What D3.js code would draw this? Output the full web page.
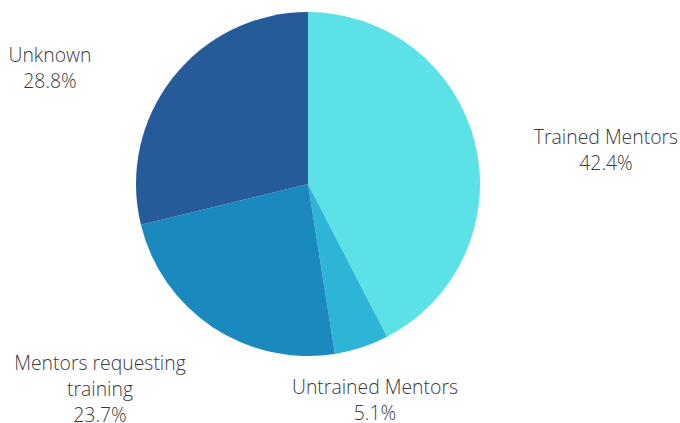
<!DOCTYPE html>
<html>
<head>
<meta charset="utf-8">
<script src="https://cdn.jsdelivr.net/npm/d3@7"></script>
<style>
  body { margin: 0; background: #fff; }
  svg text { font-family: "Open Sans", sans-serif; font-weight: 300; font-size: 19.4px; fill: #3a3a3a; }
</style>
</head>
<body>
<div id="chart"></div>
<script>
// data
const categories = ["Trained Mentors", "Untrained Mentors", "Mentors requesting training", "Unknown"];
const values = [42.4, 5.1, 23.7, 28.8];
const colors = ["#5ce1e6", "#2db4d6", "#1a89bd", "#265b99"];
// label lines and anchor positions (px), one entry per slice
const labelLines = [["Trained Mentors"], ["Untrained Mentors"], ["Mentors requesting", "training"], ["Unknown"]];
const labelPos = [[606, 144], [375, 394], [100, 370], [50, 62]];

const W = 680, H = 423;
const cx = 308, cy = 184, r = 172;

const svg = d3.select("#chart").append("svg")
  .attr("width", W).attr("height", H);

const pie = d3.pie().sort(null).value(d => d);
const arcs = pie(values);
const arc = d3.arc().innerRadius(0).outerRadius(r);

const g = svg.append("g").attr("transform", `translate(${cx},${cy})`);
g.selectAll("path")
  .data(arcs)
  .enter().append("path")
  .attr("d", arc)
  .attr("fill", (d, i) => colors[i]);

// labels
const lineH = 26;
categories.forEach((c, i) => {
  const lines = labelLines[i].concat([values[i].toFixed(1) + "%"]);
  const t = svg.append("text")
    .attr("text-anchor", "middle")
    .attr("x", labelPos[i][0])
    .attr("y", labelPos[i][1]);
  lines.forEach((s, j) => {
    t.append("tspan")
      .attr("x", labelPos[i][0])
      .attr("dy", j === 0 ? 0 : lineH)
      .text(s);
  });
});
</script>
</body>
</html>
